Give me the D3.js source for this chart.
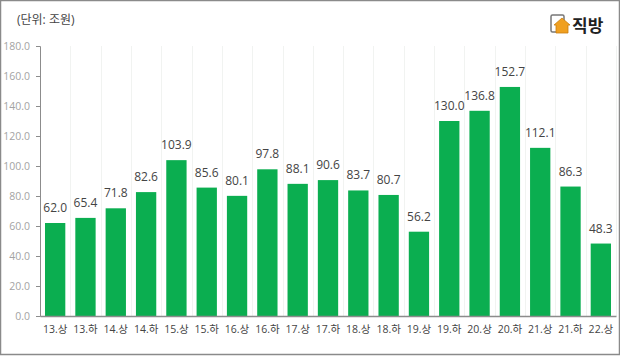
<!DOCTYPE html>
<html>
<head>
<meta charset="utf-8">
<script src="https://cdn.jsdelivr.net/npm/d3@7"></script>
<style>
  html, body { margin: 0; padding: 0; background: #fff; }
  svg { display: block; }
  text { font-family: "Open Sans", "Noto Sans CJK KR", sans-serif; }
</style>
</head>
<body>
<div id="chart"></div>
<script>
var categories = ["13.상", "13.하", "14.상", "14.하", "15.상", "15.하", "16.상", "16.하", "17.상", "17.하",
                  "18.상", "18.하", "19.상", "19.하", "20.상", "20.하", "21.상", "21.하", "22.상"];
var values = [62.0, 65.4, 71.8, 82.6, 103.9, 85.6, 80.1, 97.8, 88.1, 90.6,
              83.7, 80.7, 56.2, 130.0, 136.8, 152.7, 112.1, 86.3, 48.3];
var yTicks = [0, 20, 40, 60, 80, 100, 120, 140, 160, 180];

var width = 620, height = 356;
var margin = {top: 46, right: 4, bottom: 40, left: 40};

var svg = d3.select("#chart")
    .append("svg")
        .attr("width", width)
        .attr("height", height);

var x = d3.scaleBand()
    .domain(categories)
    .range([margin.left, width - margin.right])
    .paddingInner(0.33)
    .paddingOuter(0.165);

var y = d3.scaleLinear()
    .domain([0, 180])
    .range([height - margin.bottom, margin.top]);

// faint vertical grid at the category boundaries
var step = x.step();
svg.append("g")
    .selectAll("line")
    .data(categories)
    .join("line")
        .attr("x1", function(d) { return Math.round(x(d) + x.bandwidth() + (step - x.bandwidth()) / 2) + 0.5; })
        .attr("x2", function(d) { return Math.round(x(d) + x.bandwidth() + (step - x.bandwidth()) / 2) + 0.5; })
        .attr("y1", y(180))
        .attr("y2", y(0))
        .attr("stroke", "#f1f3f1");

svg.selectAll(".bar")
    .data(values)
    .join("rect")
        .attr("class", "bar")
        .attr("x", function(d, i) { return x(categories[i]); })
        .attr("y", function(d) { return y(d); })
        .attr("width", x.bandwidth())
        .attr("height", function(d) { return y(0) - y(d); })
        .attr("fill", "#0bae50");

svg.selectAll(".value")
    .data(values)
    .join("text")
        .attr("class", "value")
        .attr("x", function(d, i) { return x(categories[i]) + x.bandwidth() / 2; })
        .attr("y", function(d) { return y(d) - 11; })
        .attr("text-anchor", "middle")
        .attr("font-size", 12)
        .attr("fill", "#444")
        .text(function(d) { return d.toFixed(1); });

var yAxis = svg.append("g")
    .attr("transform", "translate(" + margin.left + ",0)")
    .call(d3.axisLeft(y).tickValues(yTicks).tickSize(4).tickPadding(6)
        .tickFormat(function(d) { return d.toFixed(1); }));
yAxis.selectAll("path, line").attr("stroke", "#8c8c8c");
yAxis.selectAll("text").attr("font-size", 10.5).attr("fill", "#a3a3a3");

var xAxis = svg.append("g")
    .attr("transform", "translate(0," + y(0) + ")")
    .call(d3.axisBottom(x).tickSize(0).tickPadding(10));
xAxis.select("path").attr("stroke", "#8c8c8c").attr("stroke-width", 1.5);
xAxis.selectAll("text").attr("font-size", 10.5).attr("fill", "#444");

svg.append("text")
    .attr("x", 17)
    .attr("y", 24)
    .attr("font-size", 12)
    .attr("fill", "#444")
    .text("(단위: 조원)");

// logo
var logo = svg.append("g").attr("transform", "translate(551,14)");
logo.append("rect")
    .attr("x", 0).attr("y", 1).attr("width", 13).attr("height", 17).attr("rx", 1.5)
    .attr("fill", "#fff").attr("stroke", "#777").attr("stroke-width", 1.5);
logo.append("path")
    .attr("d", "M3 11 L11 4 L19 11 L17 11 L17 19 L5 19 L5 11 Z")
    .attr("fill", "#f0a020").attr("stroke", "#c97f10").attr("stroke-width", 0.8);
svg.append("text")
    .attr("x", 572)
    .attr("y", 32)
    .attr("font-size", 17)
    .attr("font-weight", 700)
    .attr("fill", "#222")
    .text("직방");

// picture frame
svg.append("rect")
    .attr("x", 0.5).attr("y", 0.5)
    .attr("width", width - 1).attr("height", height - 2)
    .attr("fill", "none")
    .attr("stroke", "#8a8a8a")
    .attr("stroke-width", 1.5);
</script>
</body>
</html>
